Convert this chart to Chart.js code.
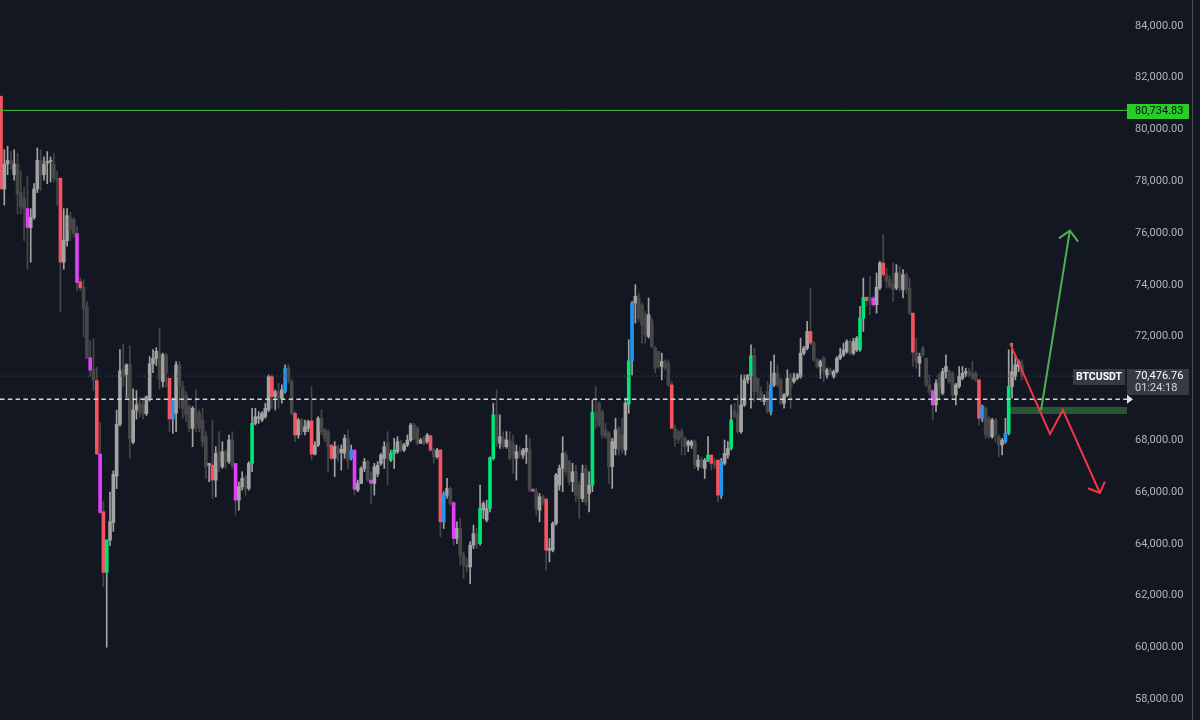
<!DOCTYPE html>
<html><head><meta charset="utf-8">
<script src="https://cdn.jsdelivr.net/npm/chart.js@4.4.0/dist/chart.umd.min.js"></script>
<style>html,body{margin:0;padding:0;background:#131722;overflow:hidden}canvas{display:block}</style>
</head><body>
<canvas id="c" width="1200" height="720"></canvas>
<script>
// ---- data (BTCUSDT candles, oldest first) ----
const opens=[
81278,77700,78662,78800,78249,78662,77561,77354,76941,76211,
76597,77698,78800,78249,78700,78750,78662,78111,78111,74875,
75702,76597,76528,75977,74118,73912,73154,71185,70745,70304,
67467,65236,62896,64135,64823,66613,68610,70745,70538,70910,
67922,69161,69436,69367,69023,69643,70951,71158,71364,70263,
71295,70393,68820,69039,70909,70071,69749,69297,68459,69104,
69039,68781,68136,67040,67040,66460,67556,66976,67556,67169,
68007,67104,65686,66202,66589,66137,67104,68652,68846,68781,
68910,69168,70458,69684,69878,69620,69878,70780,70264,69039,
68201,68781,68330,68459,68750,67460,67814,68846,68394,68330,
67814,67298,67685,67530,67491,68072,67298,67620,66073,66331,
66911,67169,66460,66331,66700,67104,67298,67900,67233,67491,
67556,67943,67620,67814,68007,68588,68459,67878,68072,67943,
68175,67620,67362,67620,64847,65879,66137,65590,64203,64590,
63558,63171,63107,63945,64396,64009,65300,64912,65364,67298,
68975,67878,68072,67749,68007,67878,67299,67557,67428,67557,
67620,66100,66009,65300,65815,65725,63752,63752,64784,66267,
66912,67428,67170,66396,66783,66267,65751,66912,65944,66267,
69040,69427,69104,68394,68265,66976,67686,68459,68201,67622,
69394,71065,73296,73489,73231,72845,72006,72587,71555,71426,
70845,71039,70974,70136,68459,68330,68330,68072,67814,67800,
67943,66975,67233,66911,67233,67427,67200,67233,65879,67104,
67427,67685,69104,69039,68330,69362,70329,70490,71264,70393,
69877,69491,69877,69104,70135,70587,70329,69426,69749,70522,
70264,70393,70458,71361,71554,72199,71748,71103,70845,71167,
70522,70716,70458,70651,71167,71296,71425,71812,71361,71490,
71490,72715,73514,73500,73489,73231,73876,74843,74391,74198,
74005,73876,74456,73811,74391,73876,72908,71425,70974,71554,
71167,70135,69910,69362,70522,69813,70651,70651,70587,69749,
70071,70393,70587,70651,70587,70587,70329,68846,69233,68846,
68137,68782,68137,67814,67943,68266,70071,70458,70845,70909];
const highs=[
81300,79213,79351,79150,79213,79075,78387,77767,78180,76941,
77905,79282,79213,78938,79144,78938,79075,78387,78150,76941,
76941,76803,76597,76252,74256,74187,73361,71846,71915,70814,
68679,65650,64162,65994,66820,69161,71502,71708,70951,71639,
69987,69918,69643,69643,69712,71226,71502,71575,72330,71364,
71364,70393,69620,71040,71040,70264,69878,69362,69297,69942,
69168,69233,68330,67104,68781,67749,68330,67943,67620,68201,
68330,67104,66395,66782,66653,67169,69233,69233,69104,69104,
69426,70522,70522,69942,70200,70136,70909,70909,70330,69104,
68846,68846,68781,68781,70071,67943,68910,69168,68459,68394,
67814,67943,67814,67814,68201,68394,67814,67620,66460,66976,
67298,67233,66782,67104,67169,67491,67943,68330,67620,68072,
68136,68007,67878,68201,68652,68652,68523,68072,68136,68265,
68200,67685,67685,67650,66009,66524,66202,65624,64847,64976,
63687,63429,64074,64719,64590,66266,65624,65686,67362,69426,
69942,68975,68330,68330,68330,68201,67814,67750,67686,68201,
68072,66140,66138,65944,65880,65751,64203,64848,66718,67041,
68136,67557,67234,67106,67041,66396,67041,67041,66783,69556,
70071,69491,69168,68652,68330,68072,68846,68523,68846,69620,
71877,73360,74005,73683,73296,72973,73489,72716,71619,71426,
71361,71103,71103,70265,68588,68394,68459,68136,68000,68007,
68007,67427,67362,67298,68136,67427,67298,67233,67298,68007,
67943,69362,69426,69749,70522,70522,70522,71683,71554,70393,
70071,69749,70264,71038,71296,70909,70393,69800,70716,70587,
70587,70587,71941,71620,72586,73876,71812,71167,71103,71232,
70780,70780,70716,71232,71554,71748,71877,71877,71941,72006,
73167,74262,73553,74327,73553,74456,74908,75939,74649,74327,
74843,74778,74714,74585,74456,74262,72908,71941,71361,71620,
71167,70522,69942,70329,70587,70780,71296,70716,70651,70200,
70845,70845,70780,70780,71038,70651,70329,69362,69300,68910,
68846,68846,68201,68072,68846,71490,71748,71300,71100,71100];
const lows=[
77700,77079,78249,78450,78043,76734,76734,75702,74600,74875,
76528,77561,77629,78043,77905,77974,77974,77079,72948,74600,
75495,75702,75839,73774,73774,71984,71158,70469,69918,67440,
65168,62345,60004,63928,64479,66131,68541,70056,69643,67302,
67853,68816,68885,68816,68954,69505,70607,70882,69987,70056,
70056,68330,68265,68330,69233,68846,68717,68330,67749,68330,
68330,67749,66524,66395,65750,65815,66782,66911,66911,67104,
66911,65106,65300,66073,65879,66073,66782,68588,68652,68717,
68846,69104,69233,69168,69233,69426,69813,70200,68975,67943,
68072,68201,68201,68330,67233,67427,67749,68201,67943,66782,
67233,66589,67169,66846,67298,66911,67233,65879,66009,66331,
66782,66395,65557,65879,66589,67040,66911,66266,67169,66911,
67491,67556,67556,67749,67943,68007,67814,67878,67814,67878,
67556,67104,67298,64267,64590,65750,65493,63945,64009,63171,
62655,62913,62462,63816,63816,63945,64976,64847,65235,67233,
67749,67685,67685,67685,67233,66720,66460,67300,67299,67100,
66009,66000,65106,64848,65493,62978,63301,63688,64719,66073,
66009,66654,66267,66009,65622,64977,65622,65493,65235,66009,
68459,68523,68072,68072,66331,66138,67428,67428,67493,67428,
69040,70523,72523,72587,71748,71748,71942,71555,70588,70781,
70329,70716,70071,68459,67750,67878,67427,67427,67556,67685,
66911,66846,66911,66524,67169,66846,66911,65621,65750,67040,
67298,67620,68846,68265,68265,69300,70200,69233,69491,69620,
69491,69362,69039,68975,70071,70071,69362,69233,69685,69233,
70200,70329,70393,71296,71490,71683,71038,70780,70393,70264,
70393,70522,70393,70587,71103,71232,71361,71296,71296,71425,
71425,72199,73167,72844,73167,72908,73811,74327,73876,73876,
73360,73811,73747,73489,73682,72844,70845,70780,70458,71232,
70071,69749,68782,69104,69555,69749,70393,70200,69620,69362,
70006,70329,70458,70458,70329,70264,68588,68717,68072,68072,
68072,67943,67363,67427,67879,68201,69620,70329,70651,70329];
const closes=[
77700,78662,78800,78700,78662,77492,77010,76941,76211,76597,
77698,78800,78249,78662,78759,78800,78111,78043,74875,75729,
76666,76115,75977,74090,73884,73085,71158,70703,70331,67467,
65209,62896,64135,64851,66682,68610,70676,70469,70910,68059,
69161,69367,69092,69023,69671,70951,71158,71433,70331,71295,
70607,68820,69555,70909,70071,69233,68975,68459,69233,68652,
68459,67943,66976,67100,66460,67491,67169,67556,67169,68007,
67040,65686,66202,66524,66137,67104,68652,68910,68900,69039,
69233,70458,69684,69878,69620,69942,70780,70264,69039,68201,
68781,68330,68523,68717,67460,67814,68846,68330,68072,67749,
67298,67749,67491,67650,68072,67233,67620,66099,66331,66911,
67169,66460,66331,66976,67040,67427,67749,67300,67491,67620,
67943,67620,67814,68007,68588,68072,67878,68007,67878,68201,
67620,67362,67620,64847,65905,66137,65557,64203,64590,63558,
63171,63107,63945,64396,64009,65364,65557,65364,67324,68975,
67943,68136,67749,68007,67298,67428,67557,67428,67620,67686,
66073,66030,65364,65815,65622,63752,63820,64784,66654,66912,
67493,66783,66396,66783,65880,65751,66718,65622,66267,69075,
68846,68588,68201,68136,66976,67943,68394,67622,67686,69427,
71065,73296,73554,72716,72458,72071,72845,71619,70781,70845,
71039,70781,70136,68459,68072,68007,68100,67750,67943,67943,
67040,67233,66975,67233,67427,67104,67040,65879,67169,67491,
67685,68782,68910,68330,69362,70329,70522,71264,69877,69877,
69555,69620,69104,70135,70587,70135,69426,69749,70393,70006,
70393,70522,71361,71554,72199,71748,71103,70845,71038,70651,
70716,70587,70651,71167,71296,71490,71812,71361,71812,71941,
72715,73514,73385,73360,73231,73908,74843,74391,74134,73940,
73811,74456,73876,74391,73811,72908,71400,71038,71232,71296,
70135,69877,69362,70200,70006,70651,70845,70264,69749,70135,
70458,70587,70651,70522,70393,70329,68846,69300,68201,68137,
68782,68201,67814,68000,68266,70071,70651,70909,71038,70476.76];
// indicator-highlighted candles (by candle index)
const redCandles=[0,18,24,29,31,51,64,82,89,94,100,130,133,165,203,215,217,245,262,267,276,296];
const magentaCandles=[8,23,27,30,71,107,112,137,161,264,282];
const greenCandles=[32,76,118,119,145,148,149,179,190,214,221,227,260,261,305];
const blueCandles=[52,86,106,134,191,218,233,297,304];
// price axis
const yTicks=[58000,60000,62000,64000,66000,68000,70000,72000,74000,76000,78000,80000,82000,84000];
const yRange=[57197,84996];
const xRange=[-0.3,340.8];
// levels and drawings (x in candle-index units, y in price)
const alertLevel=80734.83;
const lastPrice=70476.76;
const dashedLevel=69580;
const zoneLow=69011, zoneHigh=69282, zoneStart=304.8;
const greenArrowShaft=[[314.8,69166],[323.5,76089]];
const greenArrowHead=[[320.2,75795],[323.5,76089],[326.0,75664]];
const redPath=[[305.4,71741],[317.5,68239],[321.4,69166],[332.6,65961]];
const redArrowHead=[[329.0,66143],[332.6,65961],[334.1,66398]];
const symbol='BTCUSDT';
const countdown='01:24:18';

// ---- rendering ----
const FAM='Roboto';
const fmt=v=>v.toLocaleString('en-US',{minimumFractionDigits:2,maximumFractionDigits:2});
const RED='#f7525f',MAG='#e040fb',GRN='#00e676',BLU='#2196f3',UP='#a3a3a3',DN='#474747';
const isUp=i=>closes[i]>=opens[i];
const bodyColor=i=>redCandles.includes(i)?RED:magentaCandles.includes(i)?MAG:greenCandles.includes(i)?GRN:blueCandles.includes(i)?BLU:(isUp(i)?UP:DN);
const idx=closes.map((_,i)=>i);
const bodyCols=idx.map(bodyColor);
const wickCols=idx.map(i=>isUp(i)?UP:DN);
const pts=a=>a.map(p=>({x:p[0],y:p[1]}));
const line=(data,color,width,extra)=>Object.assign({type:'line',data,borderColor:color,borderWidth:width,pointRadius:0,fill:false,tension:0},extra||{});

const overlay={id:'overlay',afterDraw(chart){
  const {ctx,chartArea:a,scales:{y}}=chart;
  ctx.save();
  ctx.fillStyle='#4a4e59';ctx.fillRect(chart.width-8,0,1,chart.height);
  ctx.textBaseline='middle';ctx.textAlign='left';
  // alert level label
  let py=Math.round(y.getPixelForValue(alertLevel));
  ctx.fillStyle='#25cf25';ctx.fillRect(a.right,py-6,62,15);
  ctx.fillStyle='#0b0e14';ctx.font='11px '+FAM;
  ctx.fillText(fmt(alertLevel),a.right+8,py+1.5);
  // last price + countdown
  py=Math.round(y.getPixelForValue(lastPrice));
  ctx.fillStyle='#363a45';ctx.fillRect(a.right,py-7,62,26);
  ctx.fillRect(a.right-54,py-7,52,16);
  ctx.fillStyle='#ffffff';ctx.font='11px '+FAM;
  ctx.fillText(fmt(lastPrice),a.right+8,py);
  ctx.fillStyle='#d1d4dc';ctx.fillText(countdown,a.right+8,py+12.5);
  ctx.fillStyle='#ffffff';ctx.font='bold 10.5px '+FAM;ctx.textAlign='center';
  ctx.fillText(symbol,a.right-28,py+1);
  // dashed line end marker
  py=y.getPixelForValue(dashedLevel);
  ctx.fillStyle='#e0e3eb';ctx.beginPath();ctx.moveTo(a.right,py-4.5);ctx.lineTo(a.right+6,py);ctx.lineTo(a.right,py+4.5);ctx.closePath();ctx.fill();
  ctx.restore();
}};

new Chart(document.getElementById('c'),{
  type:'bar',
  data:{datasets:[
    line(pts([[zoneStart,zoneLow],[xRange[1],zoneLow]]),'rgba(0,0,0,0)',0,{order:9}),
    line(pts([[zoneStart,zoneHigh],[xRange[1],zoneHigh]]),'rgba(0,0,0,0)',0,{order:9,fill:'-1',backgroundColor:'rgba(76,175,80,0.42)'}),
    {type:'bar',data:idx.map(i=>({x:i,y:[lows[i],highs[i]]})),backgroundColor:wickCols,barThickness:1,grouped:false,order:8,borderWidth:0},
    {type:'bar',data:idx.map(i=>({x:i,y:[opens[i],closes[i]]})),backgroundColor:bodyCols,barThickness:3,minBarLength:1,grouped:false,order:7,borderWidth:0},
    line(pts([[xRange[0],lastPrice],[xRange[1],lastPrice]]),'#4c505b',1,{borderDash:[1,3],order:3}),
    line(pts([[xRange[0],alertLevel],[xRange[1],alertLevel]]),'#3fc63f',1,{order:2}),
    line(pts([[xRange[0],dashedLevel],[xRange[1],dashedLevel]]),'#d4d6dc',1.6,{borderDash:[4.5,3.3],order:2}),
    line(pts(greenArrowShaft),'#4caf50',2,{order:1}),
    line(pts(greenArrowHead),'#4caf50',2,{order:1}),
    line(pts(redPath),'#f23645',2,{order:1}),
    line(pts(redArrowHead),'#f23645',2,{order:1})
  ]},
  options:{
    responsive:false,animation:false,devicePixelRatio:1,
    layout:{padding:0},
    plugins:{legend:{display:false},tooltip:{enabled:false}},
    scales:{
      x:{type:'linear',display:false,min:xRange[0],max:xRange[1],offset:false},
      y:{position:'right',min:yRange[0],max:yRange[1],
        grid:{display:false,drawTicks:false},border:{display:false},
        ticks:{color:'#b2b5be',font:{family:FAM,size:11},padding:8,callback:v=>fmt(v)},
        afterBuildTicks:s=>{s.ticks=yTicks.map(v=>({value:v}));},
        afterFit:s=>{s.width=73;s.paddingTop=0;s.paddingBottom=0;}
      }
    }
  },
  plugins:[overlay]
});
</script>
</body></html>
